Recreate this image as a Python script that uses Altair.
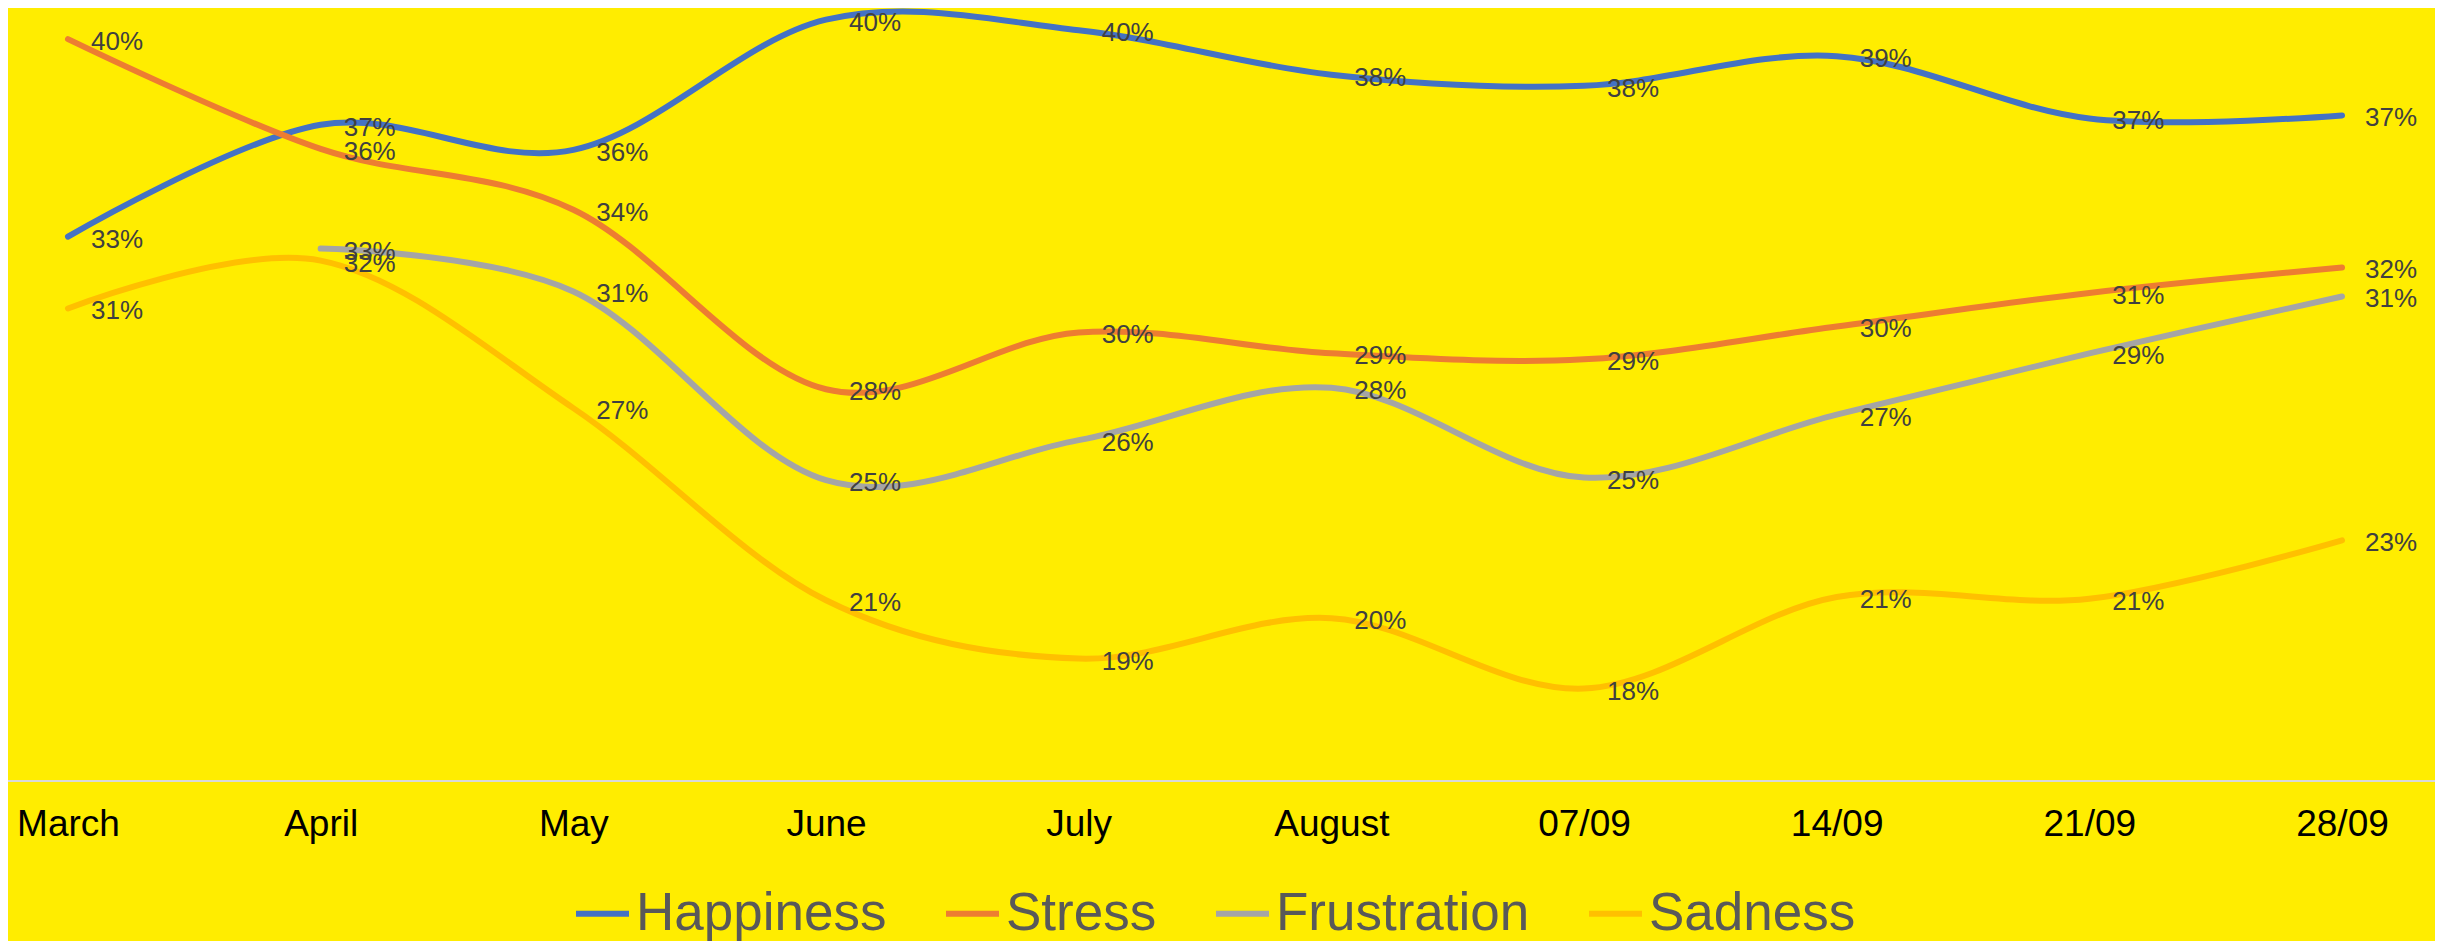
import altair as alt
import pandas as pd

categories = ["March", "April", "May", "June", "July", "August", "07/09", "14/09", "21/09", "28/09"]
series_names = ["Happiness", "Stress", "Frustration", "Sadness"]
happiness = [0.330, 0.3674, 0.359, 0.4025, 0.399, 0.3841, 0.3804, 0.3903, 0.3695, 0.3705]
stress = [0.396, 0.3593, 0.339, 0.279, 0.298, 0.291, 0.289, 0.300, 0.3112, 0.3197]
frustration = [None, 0.326, 0.3117, 0.2486, 0.262, 0.2795, 0.2495, 0.2705, 0.291, 0.310]
sadness = [0.306, 0.322, 0.2727, 0.2085, 0.189, 0.2025, 0.179, 0.2096, 0.209, 0.2285]
colors = ["#4472C4", "#ED7D31", "#A5A5A5", "#FFC000"]

rows = []
for name, vals in zip(series_names, [happiness, stress, frustration, sadness]):
    for cat, v in zip(categories, vals):
        if v is not None:
            rows.append({"period": cat, "series": name, "value": v})
df = pd.DataFrame(rows)

FONT = "Liberation Sans, Arial, sans-serif"
W = 2427
H = 773

x_enc = alt.X("period:N", sort=categories,
              scale=alt.Scale(range=[60, 2334], padding=0),
              axis=alt.Axis(title=None, domain=False, ticks=False, grid=False,
                            labelAngle=0, labelFont=FONT, labelFontSize=37,
                            labelColor="#000000", labelPadding=25))
y_enc = alt.Y("value:Q", scale=alt.Scale(domain=[0.1481, 0.4064], nice=False, zero=False),
              axis=None)
color_enc = alt.Color("series:N", sort=series_names,
                      scale=alt.Scale(domain=series_names, range=colors),
                      legend=alt.Legend(title=None, orient="none", legendX=565, legendY=876,
                                        direction="horizontal", symbolType="stroke",
                                        symbolStrokeWidth=6, symbolSize=2809,
                                        labelFont=FONT, labelFontSize=53, labelLimit=2000,
                                        labelColor="#595959", columnPadding=47,
                                        labelOffset=4, padding=0))

base = alt.Chart(df)

lines = base.mark_line(interpolate="cardinal", strokeWidth=6, strokeCap="round").encode(
    x=x_enc, y=y_enc, color=color_enc, detail="series:N")

labels = base.mark_text(align="left", baseline="middle", dx=23, dy=3,
                        font=FONT, fontSize=26, color="#404040").encode(
    x=alt.X("period:N", sort=categories), y="value:Q",
    text=alt.Text("value:Q", format=".0%"))

baseline = alt.Chart(pd.DataFrame({"a": [0]})).mark_rule(color="#D9D9D9", strokeWidth=2).encode(
    x=alt.value(-8), x2=alt.value(2435), y=alt.value(H))

chart = alt.layer(baseline, lines, labels).properties(
    width=W, height=H,
    autosize=alt.AutoSizeParams(type="none"),
    padding={"left": 0, "top": 0, "right": 0, "bottom": 160},
    background="#FFED00",
).configure_view(stroke=None)

chart.save("out.html", embed_options={"renderer": "svg", "actions": False})
